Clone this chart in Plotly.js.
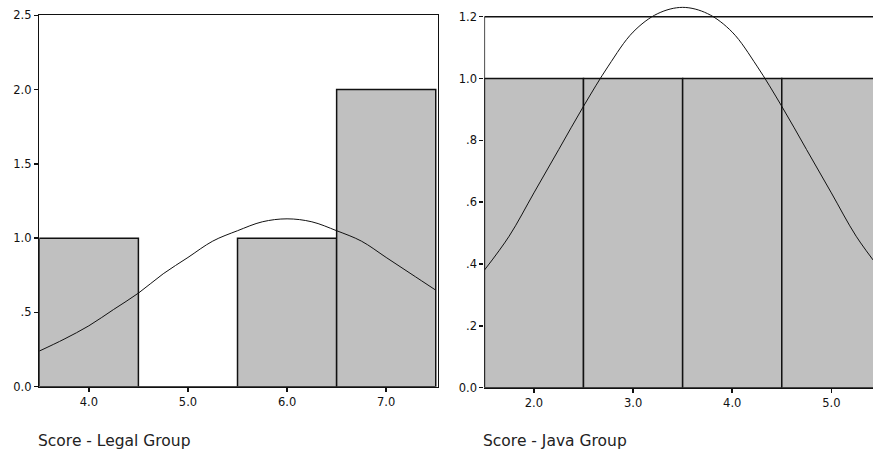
<!DOCTYPE html>
<html>
<head>
<meta charset="utf-8">
<script src="https://cdn.plot.ly/plotly-3.0.1.min.js"></script>
<style>html,body{margin:0;padding:0;background:#fff;}#chart{width:873px;height:454px;}</style>
</head>
<body>
<div id="chart"></div>
<script>
// Legal group histogram
const legalBins = [4, 5, 6, 7];
const legalCounts = [1, 0, 1, 2];
const legalTickVals = [4, 5, 6, 7];
const legalTickText = ['4.0', '5.0', '6.0', '7.0'];
const legalYTickVals = [0, 0.5, 1, 1.5, 2, 2.5];
const legalYTickText = ['0.0', '.5', '1.0', '1.5', '2.0', '2.5'];
// Normal curve (Legal)
const legalCurveX = [3.5, 3.75, 4.0, 4.25, 4.5, 4.75, 5.0, 5.25, 5.5, 5.75, 6.0, 6.25, 6.5, 6.75, 7.0, 7.25, 7.5];
const legalCurveY = [0.24, 0.32, 0.41, 0.52, 0.63, 0.76, 0.87, 0.98, 1.05, 1.11, 1.13, 1.11, 1.05, 0.98, 0.87, 0.76, 0.65];

// Java group histogram
const javaBins = [2, 3, 4, 5];
const javaCounts = [1, 1, 1, 1];
const javaTickVals = [2, 3, 4, 5];
const javaTickText = ['2.0', '3.0', '4.0', '5.0'];
const javaYTickVals = [0, 0.2, 0.4, 0.6, 0.8, 1.0, 1.2];
const javaYTickText = ['0.0', '.2', '.4', '.6', '.8', '1.0', '1.2'];
// Normal curve (Java)
const javaCurveX = [1.5, 1.75, 2.0, 2.25, 2.5, 2.75, 3.0, 3.25, 3.5, 3.75, 4.0, 4.25, 4.5, 4.75, 5.0, 5.25, 5.5];
const javaCurveY = [0.38, 0.49, 0.63, 0.77, 0.91, 1.04, 1.15, 1.21, 1.23, 1.21, 1.15, 1.04, 0.91, 0.77, 0.63, 0.49, 0.38];

const titles = ['Score - Legal Group', 'Score - Java Group'];

const barStyle = {color: '#c0c0c0', line: {color: '#111', width: 1.5}};
const curveStyle = {color: '#111', width: 1, shape: 'spline', smoothing: 1};
const tickFont = {family: 'DejaVu Sans, Arial, sans-serif', size: 11.5, color: '#111'};
const titleFont = {family: 'DejaVu Sans, Arial, sans-serif', size: 15.5, color: '#222'};

const data = [
  {type: 'bar', x: legalBins, y: legalCounts, width: 1, marker: barStyle, xaxis: 'x', yaxis: 'y', hoverinfo: 'skip'},
  {type: 'scatter', mode: 'lines', x: legalCurveX, y: legalCurveY, line: curveStyle, xaxis: 'x', yaxis: 'y', hoverinfo: 'skip'},
  {type: 'bar', x: javaBins, y: javaCounts, width: 1, marker: barStyle, xaxis: 'x2', yaxis: 'y2', hoverinfo: 'skip'},
  {type: 'scatter', mode: 'lines', x: javaCurveX, y: javaCurveY, line: curveStyle, xaxis: 'x2', yaxis: 'y2', hoverinfo: 'skip'}
];

const axisCommon = {
  showgrid: false, zeroline: false, ticks: 'outside', ticklen: 4, tickwidth: 1.5,
  tickcolor: '#111', linecolor: '#111', linewidth: 1.5, tickfont: tickFont, fixedrange: true
};

const layout = {
  width: 873, height: 454,
  margin: {l: 0, r: 0, t: 0, b: 0},
  paper_bgcolor: '#fff', plot_bgcolor: '#fff',
  showlegend: false, bargap: 0,
  xaxis: Object.assign({}, axisCommon, {
    domain: [0.045, 0.5014], range: [3.5, 7.52],
    tickvals: legalTickVals, ticktext: legalTickText,
    showline: true, mirror: true, anchor: 'y'
  }),
  yaxis: Object.assign({}, axisCommon, {
    domain: [0.1482, 0.9663], range: [0, 2.5],
    tickvals: legalYTickVals, ticktext: legalYTickText,
    showline: true, mirror: true, anchor: 'x'
  }),
  xaxis2: Object.assign({}, axisCommon, {
    domain: [0.5548, 1], range: [1.5, 5.42],
    tickvals: javaTickVals, ticktext: javaTickText,
    showline: true, mirror: false, anchor: 'y2'
  }),
  yaxis2: Object.assign({}, axisCommon, {
    domain: [0.146, 0.9974], range: [0, 1.25],
    tickvals: javaYTickVals, ticktext: javaYTickText,
    showline: false, anchor: 'x2'
  }),
  shapes: [
    {type: 'line', xref: 'x2', yref: 'y2', x0: 1.5, x1: 1.5, y0: 0, y1: 1.2, line: {color: '#111', width: 1.5}, layer: 'above'},
    {type: 'line', xref: 'x2', yref: 'y2', x0: 1.5, x1: 5.42, y0: 1.2, y1: 1.2, line: {color: '#111', width: 1.5}, layer: 'above'}
  ],
  annotations: [
    {text: titles[0], xref: 'paper', yref: 'paper', x: 36 / 873, y: 1 - 441 / 454, xanchor: 'left', yanchor: 'middle', showarrow: false, font: titleFont},
    {text: titles[1], xref: 'paper', yref: 'paper', x: 481 / 873, y: 1 - 441 / 454, xanchor: 'left', yanchor: 'middle', showarrow: false, font: titleFont}
  ]
};

Plotly.newPlot('chart', data, layout, {staticPlot: true, displayModeBar: false});
</script>
</body>
</html>
